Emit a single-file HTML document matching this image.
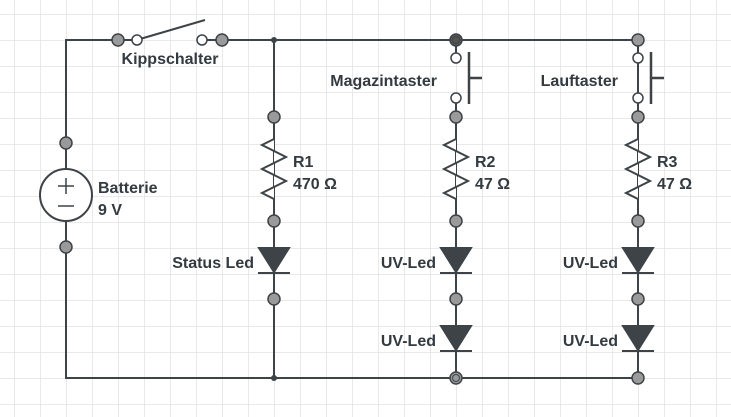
<!DOCTYPE html>
<html><head><meta charset="utf-8"><style>
html,body{margin:0;padding:0;background:#fff;}
svg{display:block;}
text{font-family:"Liberation Sans",sans-serif;font-weight:bold;font-size:16px;fill:#333a40;}
</style></head><body>
<svg width="731" height="417" viewBox="0 0 731 417" xmlns="http://www.w3.org/2000/svg">
<defs>
<pattern id="g" x="14" y="14" width="26" height="26" patternUnits="userSpaceOnUse">
<path d="M0 0H26M0 0V26" stroke="#e2e2e2" stroke-width="1.5" fill="none"/>
</pattern>
</defs>
<rect width="731" height="417" fill="url(#g)"/>
<g stroke="#3d4347" stroke-width="2" fill="none">
<path d="M118 40H66V378H638V40H222"/>
<path d="M137 40H118M202 40H222"/>
<path d="M140 39L205 20"/>
<path d="M274 40V378"/>
<path d="M456 40V58M456 98V378"/>
<path d="M638 40V58M638 98V378"/>
<path d="M469 52V104M469 78H482" stroke-width="2.5"/>
<path d="M651 52V104M651 78H664" stroke-width="2.5"/>
</g>
<g stroke="#3d4347" stroke-width="2" fill="#fff">
<polyline points="274,139 262,145 286,157 262,169 286,181 262,193 274,199"/>
<polyline points="274,139 262,145 286,157 262,169 286,181 262,193 274,199" transform="translate(182,0)"/>
<polyline points="274,139 262,145 286,157 262,169 286,181 262,193 274,199" transform="translate(364,0)"/>
</g>
<g fill="#3d4347" stroke="#3d4347" stroke-width="2">
<path d="M259 248H289L274 272Z"/><path d="M258 273H290"/>
<path d="M441 248H471L456 272Z"/><path d="M440 273H472"/>
<path d="M441 326H471L456 350Z"/><path d="M440 351H472"/>
<path d="M623 248H653L638 272Z"/><path d="M622 273H654"/>
<path d="M623 326H653L638 350Z"/><path d="M622 351H654"/>
</g>
<g stroke="#3d4347" stroke-width="2" fill="#fff">
<circle cx="66" cy="195" r="26"/>
</g>
<g stroke="#3d4347" stroke-width="1.5">
<path d="M58 186H74M66 178V194M58 206H74"/>
</g>
<g fill="#9a9a9a" stroke="#3d4347" stroke-width="1.5">
<circle cx="66" cy="143" r="6"/><circle cx="66" cy="247" r="6"/>
<circle cx="118" cy="40" r="6"/><circle cx="222" cy="40" r="6"/>
<circle cx="274" cy="117" r="6"/><circle cx="274" cy="221" r="6"/><circle cx="274" cy="299" r="6"/>
<circle cx="456" cy="117" r="6"/><circle cx="456" cy="221" r="6"/><circle cx="456" cy="299" r="6"/>
<circle cx="638" cy="40" r="6"/><circle cx="638" cy="117" r="6"/><circle cx="638" cy="221" r="6"/><circle cx="638" cy="299" r="6"/><circle cx="638" cy="378" r="6"/>
<circle cx="456" cy="40" r="6" fill="#555"/><circle cx="456" cy="378" r="6"/>
</g>
<g fill="none" stroke="#3d4347" stroke-width="1"><circle cx="456" cy="40" r="3.5"/><circle cx="456" cy="378" r="3.5"/></g>
<g fill="#fff" stroke="#3d4347" stroke-width="1.5">
<circle cx="137" cy="40" r="5"/><circle cx="202" cy="40" r="5"/>
<circle cx="456" cy="58" r="5"/><circle cx="456" cy="98" r="5"/>
<circle cx="638" cy="58" r="5"/><circle cx="638" cy="98" r="5"/>
</g>
<circle cx="274" cy="40" r="3" fill="#3d4347"/>
<circle cx="274" cy="378" r="3" fill="#3d4347"/>
<text x="170" y="64" text-anchor="middle">Kippschalter</text>
<text x="98" y="193">Batterie</text>
<text x="98" y="215">9 V</text>
<text x="293" y="167">R1</text><text x="293" y="189">470 Ω</text>
<text x="475" y="167">R2</text><text x="475" y="189">47 Ω</text>
<text x="657" y="167">R3</text><text x="657" y="189">47 Ω</text>
<text x="437" y="86" text-anchor="end">Magazintaster</text>
<text x="618" y="86" text-anchor="end">Lauftaster</text>
<text x="254" y="268" text-anchor="end">Status Led</text>
<text x="436" y="268" text-anchor="end">UV-Led</text><text x="436" y="346" text-anchor="end">UV-Led</text>
<text x="618" y="268" text-anchor="end">UV-Led</text><text x="618" y="346" text-anchor="end">UV-Led</text>
</svg>
</body></html>
